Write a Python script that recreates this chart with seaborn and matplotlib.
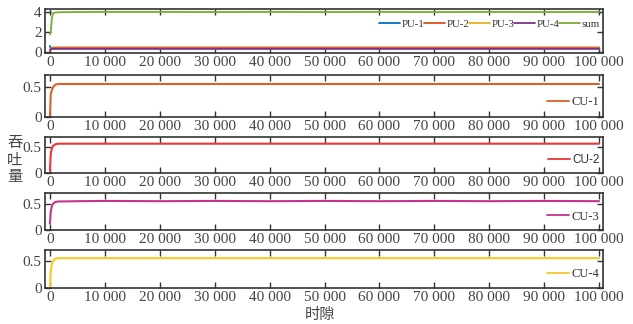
import matplotlib
matplotlib.use("Agg")
import matplotlib.pyplot as plt
import seaborn as sns
import pandas as pd
from matplotlib.ticker import FuncFormatter, FixedLocator

# ---------------- data ----------------
slots = [0, 150, 350, 600, 1000, 1500, 2000, 5000, 10000, 20000, 30000,
         40000, 50000, 60000, 70000, 80000, 90000, 100000]

pu1 = [0.60, 0.40, 0.34, 0.33, 0.33, 0.33, 0.33, 0.33, 0.33, 0.33, 0.33,
       0.33, 0.33, 0.33, 0.33, 0.33, 0.33, 0.33]
pu2 = [0.10, 0.30, 0.40, 0.44, 0.45, 0.45, 0.45, 0.45, 0.45, 0.45, 0.45,
       0.45, 0.45, 0.45, 0.45, 0.45, 0.45, 0.45]
pu3 = [0.20, 0.30, 0.34, 0.34, 0.34, 0.34, 0.34, 0.34, 0.34, 0.34, 0.34,
       0.34, 0.34, 0.34, 0.34, 0.34, 0.34, 0.34]
pu4 = [0.15, 0.28, 0.31, 0.32, 0.32, 0.32, 0.32, 0.32, 0.32, 0.32, 0.32,
       0.32, 0.32, 0.32, 0.32, 0.32, 0.32, 0.32]
pu_sum = [1.75, 1.95, 3.40, 3.85, 3.90, 3.92, 3.93, 3.95, 3.96, 3.96, 3.95,
          3.96, 3.95, 3.96, 3.95, 3.96, 3.95, 3.96]

cu1 = [0.00, 0.38, 0.45, 0.50, 0.54, 0.55, 0.55, 0.55, 0.55, 0.55, 0.55,
       0.55, 0.55, 0.55, 0.55, 0.55, 0.55, 0.55]
cu2 = [0.05, 0.38, 0.48, 0.53, 0.56, 0.57, 0.57, 0.57, 0.57, 0.57, 0.57,
       0.57, 0.57, 0.57, 0.57, 0.57, 0.57, 0.57]
cu3 = [0.12, 0.35, 0.45, 0.50, 0.53, 0.54, 0.54, 0.545, 0.55, 0.545, 0.55,
       0.545, 0.55, 0.545, 0.55, 0.545, 0.55, 0.545]
cu4 = [0.00, 0.30, 0.44, 0.50, 0.54, 0.55, 0.55, 0.55, 0.55, 0.55, 0.55,
       0.55, 0.55, 0.55, 0.55, 0.55, 0.55, 0.55]

pu_labels = ["PU-1", "PU-2", "PU-3", "PU-4", "sum"]
cu_labels = ["CU-1", "CU-2", "CU-3", "CU-4"]
x_ticks = [0, 10000, 20000, 30000, 40000, 50000, 60000, 70000, 80000, 90000, 100000]
y_label_chars = ["吞", "吐", "量"]

pu_colors = ["#0072BD", "#D95319", "#EDB120", "#7E2F8E", "#77AC30"]
cu_colors = ["#D9622B", "#EE3338", "#C4338F", "#F7C92A"]

# ---------------- style ----------------
sns.set_style("ticks")
plt.rcParams["font.family"] = ["Liberation Serif", "Noto Sans CJK SC"]
plt.rcParams["axes.edgecolor"] = "#333333"
plt.rcParams["xtick.color"] = "#333333"
plt.rcParams["ytick.color"] = "#333333"
plt.rcParams["text.color"] = "#333333"

W, H = 633, 324
fig = plt.figure(figsize=(W / 100, H / 100), dpi=100)

left_px, right_px = 45, 603
panels_px = [(9, 53), (75, 117), (137, 173), (193, 230), (250, 288)]


def make_ax(top, bottom):
    return fig.add_axes([left_px / W, 1 - bottom / H,
                         (right_px - left_px) / W, (bottom - top) / H])


fmt = FuncFormatter(lambda v, p: "0" if v == 0 else f"{int(v):,}".replace(",", " "))


def style_ax(ax, yticks, ylim):
    ax.set_xlim(-900, 100700)
    ax.set_ylim(*ylim)
    ax.xaxis.set_major_locator(FixedLocator(x_ticks))
    ax.xaxis.set_major_formatter(fmt)
    ax.set_yticks(yticks)
    ax.set_yticklabels([("%g" % t) for t in yticks])
    ax.tick_params(direction="in", top=True, right=True, length=4, width=1.0,
                   labelsize=11, pad=2.5, labelcolor="#444444")
    for s in ax.spines.values():
        s.set_linewidth(1.2)
        s.set_color("#333333")
    ax.set_xlabel("")
    ax.set_ylabel("")


# Panel 1: PU throughputs and sum
ax1 = make_ax(*panels_px[0])
df_pu = pd.DataFrame({"slot": slots, "PU-1": pu1, "PU-2": pu2, "PU-3": pu3,
                      "PU-4": pu4, "sum": pu_sum})
for lab, col in zip(pu_labels, pu_colors):
    sns.lineplot(data=df_pu, x="slot", y=lab, ax=ax1, color=col, lw=1.3, label=lab)
style_ax(ax1, [0, 2, 4], (-0.1, 4.25))
ax1.legend(loc="center right", bbox_to_anchor=(1.0, 0.66), ncol=5, frameon=False,
           fontsize=7.8, handlelength=1.9, handletextpad=0.15, columnspacing=0.0,
           borderaxespad=0.2, borderpad=0.1)

# CU panels
cu_data = [cu1, cu2, cu3, cu4]
for i in range(4):
    ax = make_ax(*panels_px[i + 1])
    df = pd.DataFrame({"slot": slots, "value": cu_data[i]})
    sns.lineplot(data=df, x="slot", y="value", ax=ax, color=cu_colors[i], lw=1.5,
                 label=cu_labels[i])
    style_ax(ax, [0, 0.5], (0, 0.7))
    leg_font = {"family": "Liberation Sans", "size": 8.5} if i == 1 else {"family": "Liberation Serif", "size": 9}
    leg = ax.legend(loc="center right", bbox_to_anchor=(1.0, 0.36), frameon=False,
                    prop=leg_font, handlelength=1.8, handletextpad=0.2,
                    borderaxespad=0.2, borderpad=0.1)
    for h in leg.get_lines():
        h.set_linewidth(1.3)

for k, ch in enumerate(y_label_chars):
    fig.text(15 / W, 1 - (143 + 17 * k) / H, ch, ha="center", va="center",
             fontsize=11, family="Noto Sans CJK SC", color="#444444", rotation=0)
fig.text(320 / W, 1 - 314 / H, "时隙", ha="center", va="center",
         fontsize=11, family="Noto Sans CJK SC", color="#444444")

fig.savefig("out.png", dpi=100)
